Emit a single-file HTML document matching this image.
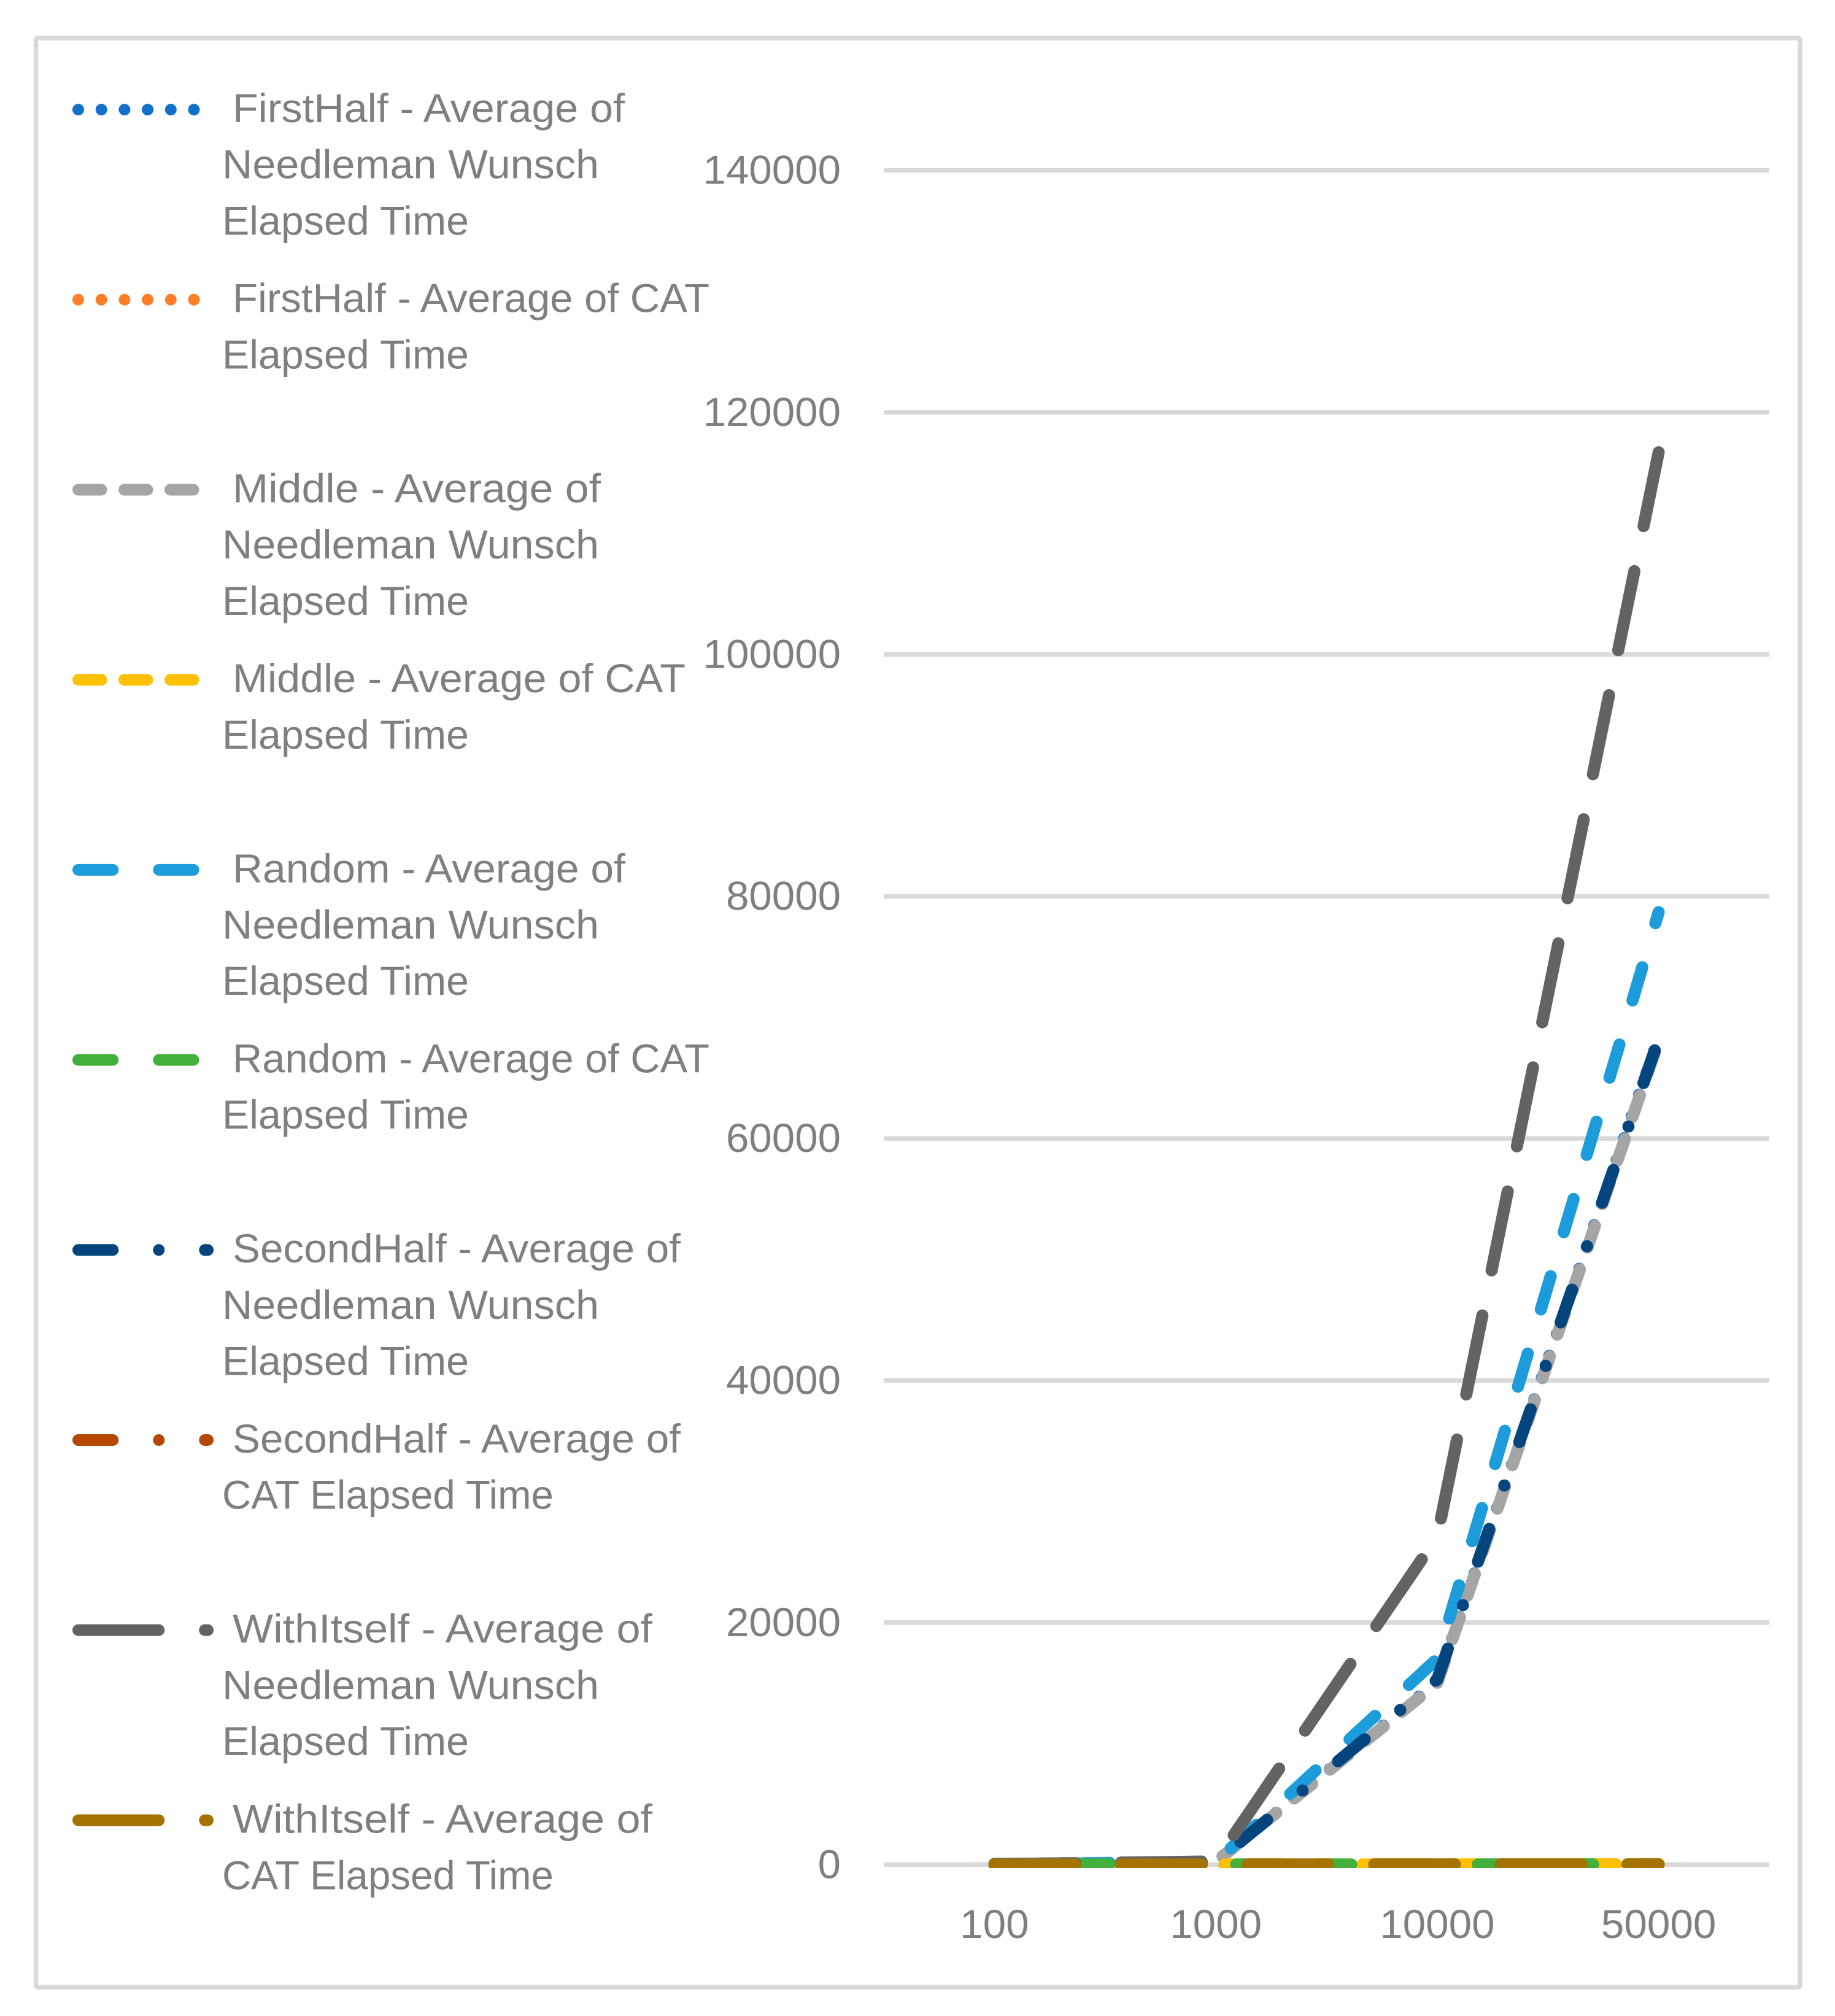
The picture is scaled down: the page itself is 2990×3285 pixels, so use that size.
<!DOCTYPE html>
<html lang="en">
<head>
<meta charset="utf-8">
<title>Elapsed Time Chart</title>
<style>
html,body{margin:0;padding:0;background:#fff;width:2990px;height:3285px;overflow:hidden}
svg{display:block}
text{font-family:"Liberation Sans",Arial,sans-serif;font-size:66px;fill:#7f7f7f}
.k{fill:none;stroke-width:19;stroke-linecap:round;stroke-linejoin:round}
.s{fill:none;stroke-width:19.8;stroke-linecap:round;stroke-linejoin:round}
</style>
</head>
<body>
<svg id="chart" xmlns="http://www.w3.org/2000/svg" width="2990" height="3285" viewBox="0 0 2990 3285">
<rect x="0" y="0" width="2990" height="3285" fill="#ffffff"/>
<rect x="58.5" y="62" width="2874.5" height="3176" rx="3" fill="#ffffff" stroke="#d9d9d9" stroke-width="7.5"/>

<g id="grid"></g>
<g id="yaxis"></g>
<g id="xaxis"></g>
<defs><clipPath id="plot-clip"><rect x="1440" y="70" width="1443" height="2974"/></clipPath></defs>
<g id="series" clip-path="url(#plot-clip)"></g>

<g>
  <g>
    <line class="k" x1="127.5" x2="338.5" y1="178.6" y2="178.6" stroke="#1270c8" stroke-dasharray="0 37.7"/>
    <text x="379" y="199" textLength="639" lengthAdjust="spacingAndGlyphs">FirstHalf - Average of</text>
    <text x="362" y="290.7" textLength="614" lengthAdjust="spacingAndGlyphs">Needleman Wunsch</text>
    <text x="362" y="382.4" textLength="402" lengthAdjust="spacingAndGlyphs">Elapsed Time</text>
  </g>
  <g>
    <line class="k" x1="127.5" x2="338.5" y1="488.3" y2="488.3" stroke="#ff7d26" stroke-dasharray="0 37.7"/>
    <text x="379" y="508.7" textLength="777" lengthAdjust="spacingAndGlyphs">FirstHalf - Average of CAT</text>
    <text x="362" y="600.4" textLength="402" lengthAdjust="spacingAndGlyphs">Elapsed Time</text>
  </g>
  <g>
    <line class="k" x1="127.5" x2="338.5" y1="798" y2="798" stroke="#a5a5a5" stroke-dasharray="37.5 37.5"/>
    <text x="379" y="818.4" textLength="600" lengthAdjust="spacingAndGlyphs">Middle - Average of</text>
    <text x="362" y="910.1" textLength="614" lengthAdjust="spacingAndGlyphs">Needleman Wunsch</text>
    <text x="362" y="1001.8" textLength="402" lengthAdjust="spacingAndGlyphs">Elapsed Time</text>
  </g>
  <g>
    <line class="k" x1="127.5" x2="338.5" y1="1107.7" y2="1107.7" stroke="#ffc000" stroke-dasharray="37.5 37.5"/>
    <text x="379" y="1128.1" textLength="738" lengthAdjust="spacingAndGlyphs">Middle - Average of CAT</text>
    <text x="362" y="1219.8" textLength="402" lengthAdjust="spacingAndGlyphs">Elapsed Time</text>
  </g>
  <g>
    <line class="k" x1="127.5" x2="338.5" y1="1417.4" y2="1417.4" stroke="#1d9cdb" stroke-dasharray="56.3 75"/>
    <text x="379" y="1437.8" textLength="640" lengthAdjust="spacingAndGlyphs">Random - Average of</text>
    <text x="362" y="1529.5" textLength="614" lengthAdjust="spacingAndGlyphs">Needleman Wunsch</text>
    <text x="362" y="1621.2" textLength="402" lengthAdjust="spacingAndGlyphs">Elapsed Time</text>
  </g>
  <g>
    <line class="k" x1="127.5" x2="338.5" y1="1727.1" y2="1727.1" stroke="#43b03b" stroke-dasharray="56.3 75"/>
    <text x="379" y="1747.5" textLength="777" lengthAdjust="spacingAndGlyphs">Random - Average of CAT</text>
    <text x="362" y="1839.2" textLength="402" lengthAdjust="spacingAndGlyphs">Elapsed Time</text>
  </g>
  <g>
    <line class="k" x1="127.5" x2="338.5" y1="2036.8" y2="2036.8" stroke="#03457c" stroke-dasharray="56.3 75 0 75"/>
    <text x="379" y="2057.2" textLength="730" lengthAdjust="spacingAndGlyphs">SecondHalf - Average of</text>
    <text x="362" y="2148.9" textLength="614" lengthAdjust="spacingAndGlyphs">Needleman Wunsch</text>
    <text x="362" y="2240.6" textLength="402" lengthAdjust="spacingAndGlyphs">Elapsed Time</text>
  </g>
  <g>
    <line class="k" x1="127.5" x2="338.5" y1="2346.5" y2="2346.5" stroke="#b54700" stroke-dasharray="56.3 75 0 75"/>
    <text x="379" y="2366.9" textLength="730" lengthAdjust="spacingAndGlyphs">SecondHalf - Average of</text>
    <text x="362" y="2458.6" textLength="540" lengthAdjust="spacingAndGlyphs">CAT Elapsed Time</text>
  </g>
  <g>
    <line class="k" x1="127.5" x2="338.5" y1="2656.2" y2="2656.2" stroke="#636363" stroke-dasharray="131.3 75"/>
    <text x="379" y="2676.6" textLength="684" lengthAdjust="spacingAndGlyphs">WithItself - Average of</text>
    <text x="362" y="2768.3" textLength="614" lengthAdjust="spacingAndGlyphs">Needleman Wunsch</text>
    <text x="362" y="2860" textLength="402" lengthAdjust="spacingAndGlyphs">Elapsed Time</text>
  </g>
  <g>
    <line class="k" x1="127.5" x2="338.5" y1="2966" y2="2966" stroke="#a57300" stroke-dasharray="131.3 75"/>
    <text x="379" y="2986.6" textLength="684" lengthAdjust="spacingAndGlyphs">WithItself - Average of</text>
    <text x="362" y="3078.3" textLength="540" lengthAdjust="spacingAndGlyphs">CAT Elapsed Time</text>
  </g>
</g>
</svg>
<script>
var categories = ['100', '1000', '10000', '50000'];
var yTickValues = [0, 20000, 40000, 60000, 80000, 100000, 120000, 140000];

var firstHalfNeedleman = [50, 235, 15100, 68300];
var firstHalfCat = [3, 6, 12, 25];
var middleNeedleman = [50, 230, 15000, 68050];
var middleCat = [3, 6, 12, 25];
var randomNeedleman = [20, 215, 17000, 78700];
var randomCat = [3, 6, 12, 25];
var secondHalfNeedleman = [50, 210, 15300, 68200];
var secondHalfCat = [3, 6, 12, 25];
var withItselfNeedleman = [35, 260, 27100, 116700];
var withItselfCat = [3, 6, 12, 25];

var seriesNames = ['firsthalf-needleman', 'firsthalf-cat', 'middle-needleman', 'middle-cat', 'random-needleman', 'random-cat', 'secondhalf-needleman', 'secondhalf-cat', 'withitself-needleman', 'withitself-cat'];
var seriesValues = [firstHalfNeedleman, firstHalfCat, middleNeedleman, middleCat, randomNeedleman, randomCat, secondHalfNeedleman, secondHalfCat, withItselfNeedleman, withItselfCat];
var seriesColors = ['#1270c8', '#ff7d26', '#a5a5a5', '#ffc000', '#1d9cdb', '#43b03b', '#03457c', '#b54700', '#636363', '#a57300'];
var seriesDashes = ['0 37.5', '0 37.5', '37.5 37.5', '37.5 37.5', '56.3 75', '56.3 75', '56.3 75 0 75', '56.3 75 0 75', '131.3 75', '131.3 75'];

var NS = 'http://www.w3.org/2000/svg';
var plotLeft = 1440, plotRight = 2883, yZero = 3038.3, pxPerUnit = 394.4 / 20000;

function xScale(i) { return plotLeft + (plotRight - plotLeft) * (i + 0.5) / categories.length; }
function yScale(v) { return yZero - v * pxPerUnit; }
function make(tag, attrs) {
  var el = document.createElementNS(NS, tag);
  for (var k in attrs) { el.setAttribute(k, attrs[k]); }
  return el;
}

var gridGroup = document.getElementById('grid');
var yGroup = document.getElementById('yaxis');
var xGroup = document.getElementById('xaxis');
var seriesGroup = document.getElementById('series');

yTickValues.forEach(function (v) {
  var y = yScale(v);
  var line = make('line', { x1: plotLeft, x2: plotRight, y1: y, y2: y, stroke: '#d9d9d9', 'stroke-width': 7.5 });
  
  
  gridGroup.appendChild(line);
  var s = String(v);
  var label = make('text', { x: 1370, y: y + 22, 'text-anchor': 'end', textLength: s.length * 37.4, lengthAdjust: 'spacingAndGlyphs' });
  
  
  label.textContent = s;
  yGroup.appendChild(label);
});

categories.forEach(function (c, i) {
  var label = make('text', { x: xScale(i), y: 3158, 'text-anchor': 'middle', textLength: c.length * 37.5, lengthAdjust: 'spacingAndGlyphs' });
  
  
  label.textContent = c;
  xGroup.appendChild(label);
});

seriesValues.forEach(function (vals, s) {
  var pts = vals.map(function (v, i) { return xScale(i).toFixed(2) + ',' + yScale(v).toFixed(2); }).join(' ');
  var line = make('polyline', { points: pts, 'class': 's', stroke: seriesColors[s], 'stroke-dasharray': seriesDashes[s] });
  
  
  line.setAttribute('data-series', seriesNames[s]);
  seriesGroup.appendChild(line);
});
</script>
</body>
</html>
